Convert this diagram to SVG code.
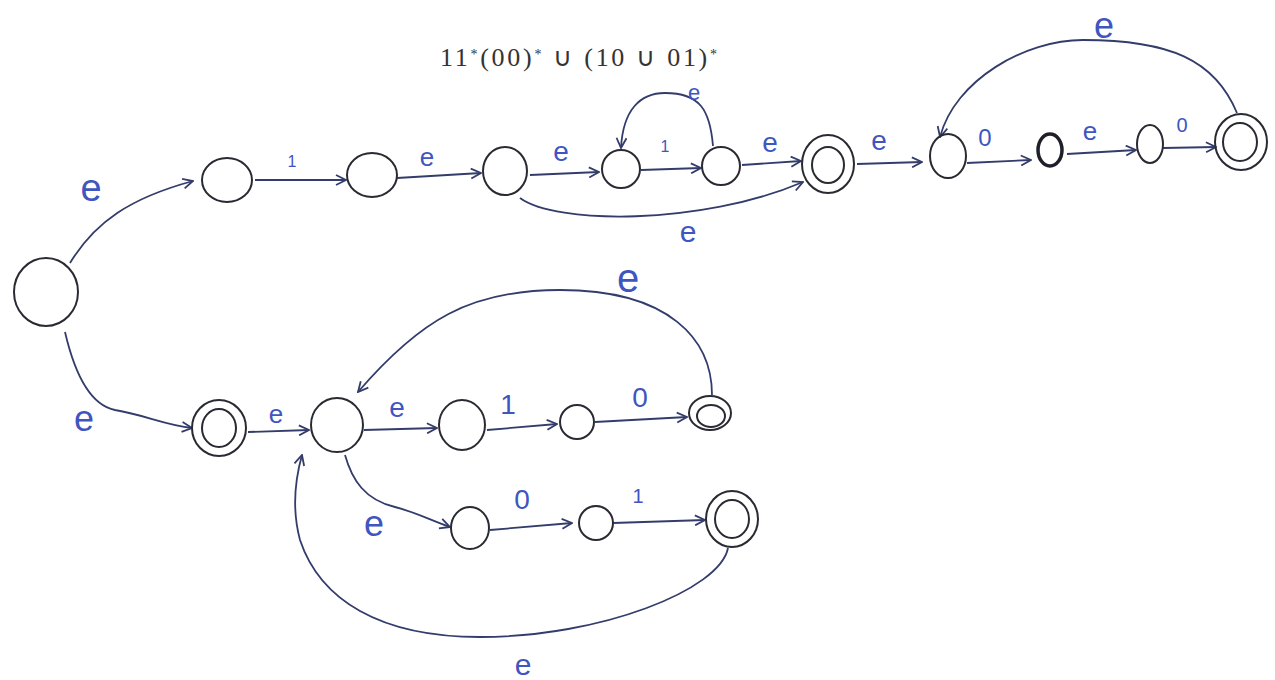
<svg xmlns="http://www.w3.org/2000/svg" width="1275" height="680" viewBox="0 0 1275 680">
<defs>
<style>
.n{fill:none;stroke:#2a2a33;stroke-width:2}
.nb{fill:none;stroke:#1f1f2a;stroke-width:3.5}
.e{fill:none;stroke:#333c6a;stroke-width:1.8}
.lb{fill:#3f55c0;font-family:"Liberation Sans",sans-serif;text-anchor:middle;dominant-baseline:central}
.t{fill:#333;font-family:"Liberation Serif",serif;font-size:26px}
</style>
<marker id="ah" viewBox="0 0 12 12" refX="11" refY="6" markerWidth="12" markerHeight="12" markerUnits="userSpaceOnUse" orient="auto">
<path d="M1,1 L11,6 L1,11" fill="none" stroke="#333c6a" stroke-width="1.8"/>
</marker>
</defs>
<rect width="1275" height="680" fill="#fff"/>
<text class="t" x="440" y="66" textLength="277" lengthAdjust="spacing">11<tspan baseline-shift="super" font-size="14">*</tspan>(00)<tspan baseline-shift="super" font-size="14">*</tspan> ∪ (10 ∪ 01)<tspan baseline-shift="super" font-size="14">*</tspan></text>
<g id="connectors">
<path class="e" marker-end="url(#ah)" d="M70,263 C95,222 130,198 193,181"/>
<path class="e" marker-end="url(#ah)" d="M255,180 L346,180"/>
<path class="e" marker-end="url(#ah)" d="M397,178 L481,173"/>
<path class="e" marker-end="url(#ah)" d="M530,175 L599,172"/>
<path class="e" marker-end="url(#ah)" d="M641,170 L701,168"/>
<path class="e" marker-end="url(#ah)" d="M742,165 L801,161"/>
<path class="e" marker-end="url(#ah)" d="M520,198 C555,224 700,226 803,182"/>
<path class="e" marker-end="url(#ah)" d="M713,146 C710,110 700,93 665,93 C640,93 623,110 621,148"/>
<path class="e" marker-end="url(#ah)" d="M857,164 L922,162"/>
<path class="e" marker-end="url(#ah)" d="M967,163 L1031,160"/>
<path class="e" marker-end="url(#ah)" d="M1067,154 L1136,150"/>
<path class="e" marker-end="url(#ah)" d="M1163,148 L1216,147"/>
<path class="e" marker-end="url(#ah)" d="M1237,113 C1215,60 1170,40 1083,40 C1025,40 955,80 940,137"/>
<path class="e" marker-end="url(#ah)" d="M65,332 C75,375 90,405 115,410 C145,415 165,425 192,428"/>
<path class="e" marker-end="url(#ah)" d="M248,432 L309,430"/>
<path class="e" marker-end="url(#ah)" d="M364,430 L437,428"/>
<path class="e" marker-end="url(#ah)" d="M487,430 L557,424"/>
<path class="e" marker-end="url(#ah)" d="M595,422 L687,417"/>
<path class="e" marker-end="url(#ah)" d="M712,395 C712,340 670,290 560,290 C470,290 420,320 358,392"/>
<path class="e" marker-end="url(#ah)" d="M345,455 C352,480 365,500 395,507 C415,512 430,520 450,527"/>
<path class="e" marker-end="url(#ah)" d="M490,530 L572,523"/>
<path class="e" marker-end="url(#ah)" d="M613,523 L705,520"/>
<path class="e" marker-end="url(#ah)" d="M728,548 C720,590 600,637 480,637 C380,637 320,600 300,540 C292,510 295,480 302,455"/>
</g>
<g id="labels">
<text class="lb" x="91" y="188" font-size="38">e</text>
<text class="lb" x="292" y="161" font-size="16">1</text>
<text class="lb" x="427" y="157" font-size="26">e</text>
<text class="lb" x="561" y="151" font-size="28">e</text>
<text class="lb" x="665" y="146" font-size="16">1</text>
<text class="lb" x="694" y="92" font-size="22">e</text>
<text class="lb" x="770" y="142" font-size="28">e</text>
<text class="lb" x="688" y="231" font-size="30">e</text>
<text class="lb" x="879" y="140" font-size="28">e</text>
<text class="lb" x="985" y="137" font-size="24">0</text>
<text class="lb" x="1090" y="131" font-size="26">e</text>
<text class="lb" x="1182" y="125" font-size="20">0</text>
<text class="lb" x="1104" y="25" font-size="36">e</text>
<text class="lb" x="84" y="418" font-size="36">e</text>
<text class="lb" x="276" y="414" font-size="26">e</text>
<text class="lb" x="397" y="407" font-size="28">e</text>
<text class="lb" x="508" y="404" font-size="28">1</text>
<text class="lb" x="640" y="397" font-size="28">0</text>
<text class="lb" x="628" y="278" font-size="40">e</text>
<text class="lb" x="374" y="523" font-size="36">e</text>
<text class="lb" x="522" y="499" font-size="28">0</text>
<text class="lb" x="638" y="496" font-size="20">1</text>
<text class="lb" x="523" y="664" font-size="30">e</text>
</g>
<g id="S"><ellipse class="n" cx="46" cy="292" rx="32" ry="34"/></g>
<g id="A"><ellipse class="n" cx="227" cy="180" rx="25" ry="22"/></g>
<g id="B"><ellipse class="n" cx="372" cy="175" rx="25" ry="22"/></g>
<g id="C"><ellipse class="n" cx="505" cy="171" rx="22" ry="24"/></g>
<g id="D"><ellipse class="n" cx="621" cy="169" rx="19" ry="19"/></g>
<g id="E"><ellipse class="n" cx="721" cy="166" rx="19" ry="19"/></g>
<g id="F"><ellipse class="n" cx="828" cy="164" rx="26" ry="29"/><ellipse class="n" cx="828" cy="165" rx="16" ry="18"/></g>
<g id="G"><ellipse class="n" cx="948" cy="156" rx="18" ry="22"/></g>
<g id="H"><ellipse class="nb" cx="1050" cy="150" rx="12" ry="16"/></g>
<g id="I"><ellipse class="n" cx="1150" cy="144" rx="13" ry="19"/></g>
<g id="J"><ellipse class="n" cx="1241" cy="142" rx="26" ry="28"/><ellipse class="n" cx="1240" cy="142" rx="17" ry="19"/></g>
<g id="K"><ellipse class="n" cx="219" cy="428" rx="27" ry="28"/><ellipse class="n" cx="219" cy="428" rx="17" ry="19"/></g>
<g id="L"><ellipse class="n" cx="337" cy="425" rx="26" ry="27"/></g>
<g id="M"><ellipse class="n" cx="462" cy="425" rx="23" ry="25"/></g>
<g id="N"><ellipse class="n" cx="577" cy="422" rx="17" ry="17"/></g>
<g id="O"><ellipse class="n" cx="710" cy="413" rx="21" ry="17"/><ellipse class="n" cx="711" cy="416" rx="14" ry="11"/></g>
<g id="P"><ellipse class="n" cx="470" cy="528" rx="19" ry="21"/></g>
<g id="Q"><ellipse class="n" cx="596" cy="523" rx="17" ry="17"/></g>
<g id="R"><ellipse class="n" cx="732" cy="519" rx="26" ry="28"/><ellipse class="n" cx="732" cy="519" rx="17" ry="19"/></g>
</svg>
